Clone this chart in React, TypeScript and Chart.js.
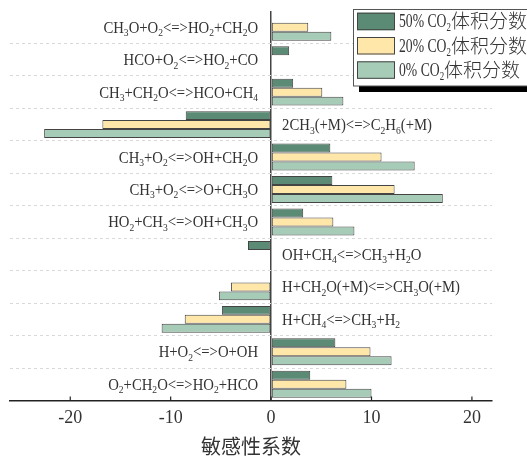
import { useEffect, useRef } from "react";
import { Chart, registerables } from "chart.js";
Chart.register(...registerables);

// ---- data ----
const reactions = [
  "CH_3O+O_2<=>HO_2+CH_2O",
  "HCO+O_2<=>HO_2+CO",
  "CH_3+CH_2O<=>HCO+CH_4",
  "2CH_3(+M)<=>C_2H_6(+M)",
  "CH_3+O_2<=>OH+CH_2O",
  "CH_3+O_2<=>O+CH_3O",
  "HO_2+CH_3<=>OH+CH_3O",
  "OH+CH_4<=>CH_3+H_2O",
  "H+CH_2O(+M)<=>CH_3O(+M)",
  "H+CH_4<=>CH_3+H_2",
  "H+O_2<=>O+OH",
  "O_2+CH_2O<=>HO_2+HCO",
];
const seriesNames = ["50% CO_2体积分数", "20% CO_2体积分数", "0% CO_2体积分数"];
const co2_50 = [0, 1.8, 2.2, -8.5, 5.9, 6.1, 3.2, -2.3, 0, -4.9, 6.4, 3.9];
const co2_20 = [3.7, 0, 5.1, -16.8, 11.0, 12.3, 6.2, 0, -4.0, -8.6, 9.9, 7.5];
const co2_0 = [6.0, 0, 7.2, -22.6, 14.3, 17.1, 8.3, 0, -5.2, -10.9, 12.0, 10.0];
const xTicks = [-20, -10, 0, 10, 20];
const xMin = -26;
const xMax = 22;
const axisTitle = "敏感性系数";

const colors = ["#5B8B74", "#FFE7AA", "#A6CBB6"];

const SERIF = "'Liberation Serif', 'Times New Roman', serif";
const CJK = "'Noto Sans CJK SC', sans-serif";

type Seg = { t: string; sub: boolean; cjk: boolean };
const isCJK = (c: string) => /[\u3000-\u9fff]/.test(c);
function parse(s: string): Seg[] {
  const segs: Seg[] = [];
  let i = 0;
  while (i < s.length) {
    const c = s[i];
    if (c === "_") {
      segs.push({ t: s[i + 1], sub: true, cjk: false });
      i += 2;
      continue;
    }
    const cjk = isCJK(c);
    const last = segs[segs.length - 1];
    if (last && !last.sub && last.cjk === cjk) last.t += c;
    else segs.push({ t: c, sub: false, cjk });
    i++;
  }
  return segs;
}

type RichOpts = { size: number; sx: number; cjkSize: number; subScale: number; color: string };
function drawRich(ctx: CanvasRenderingContext2D, s: string, x: number, y: number, align: "left" | "right", o: RichOpts) {
  const segs = parse(s);
  const fontOf = (g: Seg) => (g.cjk ? `300 ${o.cjkSize}px ${CJK}` : `${g.sub ? o.size * o.subScale : o.size}px ${SERIF}`);
  const scaleOf = (g: Seg) => (g.cjk ? 1 : o.sx);
  let w = 0;
  const widths = segs.map((g) => {
    ctx.font = fontOf(g);
    const m = ctx.measureText(g.t).width * scaleOf(g);
    w += m;
    return m;
  });
  let cx = align === "right" ? x - w : x;
  const base = y + o.size * 0.34;
  ctx.save();
  ctx.fillStyle = o.color;
  ctx.textBaseline = "alphabetic";
  ctx.textAlign = "left";
  segs.forEach((g, k) => {
    ctx.font = fontOf(g);
    ctx.save();
    ctx.translate(cx, base + (g.sub ? o.size * 0.22 : 0) + (g.cjk ? 1 : 0));
    ctx.scale(scaleOf(g), 1);
    ctx.fillText(g.t, 0, 0);
    ctx.restore();
    cx += widths[k];
  });
  ctx.restore();
}

const decorPlugin = {
  id: "decor",
  afterDatasetsDraw(chart: any) {
    const ctx: CanvasRenderingContext2D = chart.ctx;
    const xs = chart.scales.x;
    const ys = chart.scales.y;
    const x0 = xs.getPixelForValue(0);
    const ds = chart.data.datasets;
    chart.data.labels.forEach((lab: string, i: number) => {
      const sum = ds.reduce((a: number, d: any) => a + (d.data[i] || 0), 0);
      const y = ys.getPixelForValue(i);
      const opts = { size: 16, sx: 0.92, cjkSize: 16, subScale: 0.65, color: "#333" };
      if (sum < 0) drawRich(ctx, lab, x0 + 11, y, "left", opts);
      else drawRich(ctx, lab, x0 - 13, y, "right", opts);
    });
  },
  afterDraw(chart: any) {
    const ctx: CanvasRenderingContext2D = chart.ctx;
    const xs = chart.scales.x;
    const bottom = chart.chartArea.bottom;
    ctx.save();
    ctx.strokeStyle = "#222";
    ctx.lineWidth = 1.2;
    xTicks.forEach((v) => {
      const px = xs.getPixelForValue(v);
      ctx.beginPath();
      ctx.moveTo(px, bottom);
      ctx.lineTo(px, bottom - 4);
      ctx.stroke();
    });
    // legend
    const lx = 353, ly = 9, lw = 200, lh = 77;
    ctx.fillStyle = "#000";
    ctx.fillRect(lx + 6, ly + 6, lw, lh);
    ctx.fillStyle = "#fff";
    ctx.fillRect(lx, ly, lw, lh);
    ctx.strokeStyle = "#555";
    ctx.lineWidth = 1;
    ctx.strokeRect(lx + 0.5, ly + 0.5, lw, lh - 0.5);
    chart.data.datasets.forEach((d: any, i: number) => {
      const sy = 12.7 + i * 24.3;
      ctx.fillStyle = d.backgroundColor;
      ctx.fillRect(357, sy, 38, 17.5);
      ctx.strokeStyle = "#444";
      ctx.lineWidth = 1;
      ctx.strokeRect(357.5, sy + 0.5, 37, 16.5);
      drawRich(ctx, d.label, 399, sy + 8.5, "left", { size: 18, sx: 0.76, cjkSize: 19, subScale: 0.65, color: "#333" });
    });
    ctx.restore();
  },
};

export default function App() {
  const ref = useRef<HTMLCanvasElement>(null);
  useEffect(() => {
    document.body.style.margin = "0";
    document.body.style.overflow = "hidden";
    const series = [co2_50, co2_20, co2_0];
    const chart = new Chart(ref.current!, {
      type: "bar",
      data: {
        labels: reactions,
        datasets: series.map((data, i) => ({
          label: seriesNames[i],
          data,
          backgroundColor: colors[i],
          borderColor: "#444",
          borderWidth: 1,
          borderSkipped: false,
          categoryPercentage: 0.83,
          barPercentage: 1,
        })),
      },
      options: {
        indexAxis: "y",
        animation: false,
        responsive: false,
        devicePixelRatio: 1,
        layout: { padding: { left: 10, right: 35, top: 11, bottom: 0 } },
        plugins: { legend: { display: false }, tooltip: { enabled: false } },
        scales: {
          x: {
            type: "linear",
            min: xMin,
            max: xMax,
            afterBuildTicks: (s: any) => {
              s.ticks = xTicks.map((v) => ({ value: v }));
            },
            grid: {
              drawTicks: false,
              color: (c: any) => (c.tick && c.tick.value === 0 ? "#444" : "rgba(0,0,0,0)"),
              lineWidth: 1.5,
            },
            border: { display: true, color: "#222", width: 1.5 },
            ticks: {
              font: { family: SERIF, size: 18, lineHeight: 1 },
              color: "#333",
              padding: 8.5,
              maxRotation: 0,
              autoSkip: false,
            },
            title: {
              display: true,
              text: axisTitle,
              font: { family: CJK, size: 20, lineHeight: 1 },
              color: "#333",
              padding: { top: 0.5, bottom: 0 },
            },
          },
          y: {
            type: "category",
            ticks: { display: false },
            grid: {
              drawTicks: false,
              offset: true,
              color: (c: any) => (c.index === 0 ? "rgba(0,0,0,0)" : "#d9d9d9"),
              lineWidth: 1,
            },
            border: { display: false, dash: [3, 3] },
          },
        },
      } as any,
      plugins: [decorPlugin],
    });
    return () => chart.destroy();
  }, []);
  return (
    <div style={{ width: 527, height: 456 }}>
      <canvas ref={ref} width={527} height={456} style={{ display: "block" }} />
    </div>
  );
}
